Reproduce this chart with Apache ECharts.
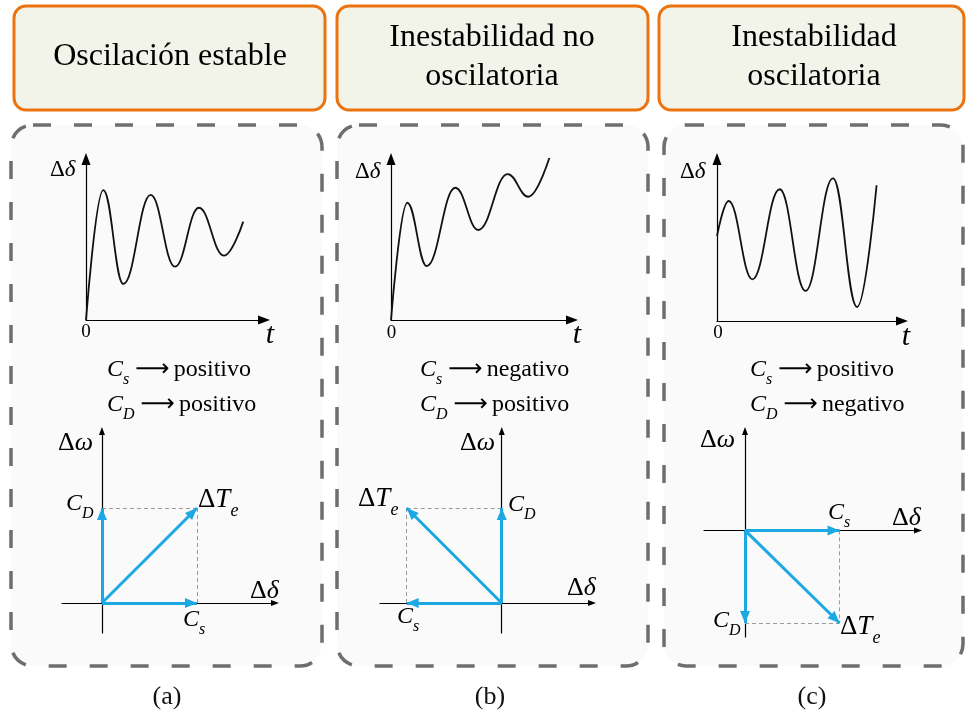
<!DOCTYPE html>
<html>
<head>
<meta charset="utf-8">
<script src="https://cdn.jsdelivr.net/npm/echarts@6/dist/echarts.min.js"></script>
<style>
  html, body { margin: 0; background: #fff; }
  #chart { width: 966px; height: 716px; }
</style>
</head>
<body>
<div id="chart"></div>
<script>
// textos
const titles = ['Oscilación estable', 'Inestabilidad no\noscilatoria', 'Inestabilidad\noscilatoria'];
const tags = ['(a)', '(b)', '(c)'];
const csSign = ['positivo', 'negativo', 'positivo'];
const cdSign = ['positivo', 'positivo', 'negativo'];

// respuesta Δδ(t): inicio, picos y valles, final; [t, Δδ]
const respA = [[0, 0], [0.94, 7.78], [2.03, 2.16], [3.52, 7.49], [4.84, 3.19], [6.14, 6.72], [7.5, 3.85], [8.55, 5.89]];
const respB = [[0, 0], [0.87, 7.02], [1.91, 3.23], [3.44, 7.92], [4.67, 5.39], [6.24, 8.74], [7.34, 7.38], [8.5, 9.82]];
const respC = [[0, 5.06], [0.61, 7.14], [1.85, 2.48], [3.28, 7.84], [4.63, 1.79], [6.07, 8.49], [7.33, 0.83], [8.35, 8.08]];
const responses = [respA, respB, respC];

// componentes del par eléctrico: Cs sobre Δδ, CD sobre Δω
const csVal = [1, -1, 1];
const cdVal = [1, 1, -0.98];

const F = 'Liberation Serif';
const BLUE = '#1CA8E3';
const TIP = 'path://M0,0 M0,12 L5,24 L-5,24 Z'; // punta en el centro del símbolo

// posiciones de cada panel
const layout = [
  {
    head: [14, 6, 311, 104], frame: [11, 125, 311, 541], tx: 170, tag: 167,
    tGrid: { left: 86, top: 159, width: 178, height: 161 }, dd: [50, 170], zero: [86, 332], t: [270, 335],
    line1: [107, 370], line2: [107, 405],
    vGrid: { left: 62, top: 431, width: 213, height: 202 }, vx: [-0.42, 1.82], vy: [-0.316, 1.81],
    dw: [58, 443], cd: [66, 504], te: [198, 500], dv: [250, 591], cs: [183, 620]
  },
  {
    head: [337, 6, 311, 104], frame: [337, 125, 311, 541], tx: 492, tag: 490,
    tGrid: { left: 391, top: 159, width: 181, height: 161 }, dd: [355, 172], zero: [391.5, 333], t: [577, 335],
    line1: [420, 370], line2: [420, 405],
    vGrid: { left: 380, top: 431, width: 212, height: 202 }, vx: [-1.281, 0.95], vy: [-0.316, 1.81],
    dw: [460, 443], cd: [508, 505], te: [358, 499], dv: [567, 588], cs: [397, 617]
  },
  {
    head: [659, 6, 305, 104], frame: [664, 125, 299, 541], tx: 814, tag: 812,
    tGrid: { left: 717, top: 159, width: 185, height: 162 }, dd: [680, 172], zero: [718, 333], t: [906, 337],
    line1: [750, 370], line2: [750, 405],
    vGrid: { left: 704, top: 431, width: 214, height: 206 }, vx: [-0.434, 1.83], vy: [-1.128, 1.052],
    dw: [700, 440], cd: [713, 621], te: [840, 627], dv: [892, 518], cs: [828, 513]
  }
];

function rich(s) {
  const lh = Math.round(s * 1.5);
  return {
    r: { fontFamily: F, fontSize: s, lineHeight: lh, fill: '#000' },
    i: { fontFamily: F, fontStyle: 'italic', fontSize: s, lineHeight: lh, fill: '#000' },
    b: { fontFamily: F, fontStyle: 'italic', fontSize: Math.round(s * 0.68), verticalAlign: 'bottom', fill: '#000' },
    w: { fontFamily: F, fontSize: s, lineHeight: lh, fill: '#000' },
    a: { fontFamily: 'DejaVu Sans', fontSize: s, padding: [0, 4, 0, 6], fill: '#000' }
  };
}

function txt(pos, text, s, align) {
  const al = align || 'left';
  return {
    type: 'text', x: pos[0], y: pos[1], z: 10,
    style: { text, rich: rich(s), align: al, textAlign: al, verticalAlign: 'middle', textVerticalAlign: 'middle' }
  };
}

function axis(i, min, max, arrow) {
  return {
    type: 'value', gridIndex: i, min, max,
    axisLine: { onZero: true, symbol: ['none', 'triangle'], symbolSize: arrow, lineStyle: { color: '#000', width: 1.2 } },
    axisTick: { show: false }, axisLabel: { show: false }, splitLine: { show: false }
  };
}

const grid = [], xAxis = [], yAxis = [], series = [], graphic = [];

layout.forEach((p, k) => {
  // marcos
  graphic.push({
    type: 'rect', z: 0,
    shape: { x: p.head[0], y: p.head[1], width: p.head[2], height: p.head[3], r: 12 },
    style: { fill: '#F2F4EA', stroke: '#EC7410', lineWidth: 3 }
  });
  graphic.push({
    type: 'rect', z: 0,
    shape: { x: p.frame[0], y: p.frame[1], width: p.frame[2], height: p.frame[3], r: 22 },
    style: { fill: '#FAFAFA', stroke: '#6E6E6E', lineWidth: 3.5, lineDash: [18, 23] }
  });
  graphic.push({
    type: 'text', x: p.tx, y: 57, z: 10,
    style: {
      text: titles[k], fontFamily: F, fontSize: 32, lineHeight: 39, fill: '#000',
      align: 'center', textAlign: 'center', verticalAlign: 'middle', textVerticalAlign: 'middle'
    }
  });
  graphic.push({
    type: 'text', x: p.tag, y: 697, z: 10,
    style: {
      text: tags[k], fontFamily: F, fontSize: 26, fill: '#111',
      align: 'center', textAlign: 'center', verticalAlign: 'middle', textVerticalAlign: 'middle'
    }
  });

  // respuesta en el tiempo
  const gi = k * 2;
  grid.push(p.tGrid);
  xAxis.push(axis(gi, 0, 9.68, [9, 12]));
  yAxis.push(axis(gi, 0, 9.64, [9, 12]));
  series.push({
    type: 'line', xAxisIndex: gi, yAxisIndex: gi, data: responses[k],
    smooth: 0.42, smoothMonotone: 'x', symbol: 'none', z: 3,
    lineStyle: { color: '#111', width: 1.8 }
  });
  graphic.push(txt(p.dd, '{r|Δ}{i|δ}', 23));
  graphic.push(txt(p.zero, '{w|0}', 19, 'center'));
  graphic.push(txt(p.t, '{i|t}', 30, 'center'));
  graphic.push(txt(p.line1, '{i|C}{b|s}{a|⟶}{w|' + csSign[k] + '}', 24));
  graphic.push(txt(p.line2, '{i|C}{b|D}{a|⟶}{w|' + cdSign[k] + '}', 24));

  // diagrama de pares
  const vi = gi + 1;
  const cs = csVal[k], cd = cdVal[k];
  grid.push(p.vGrid);
  xAxis.push(axis(vi, p.vx[0], p.vx[1], [6, 8]));
  yAxis.push(axis(vi, p.vy[0], p.vy[1], [6, 8]));
  series.push({
    type: 'lines', coordinateSystem: 'cartesian2d', xAxisIndex: vi, yAxisIndex: vi, z: 3,
    symbol: ['none', 'none'],
    lineStyle: { color: '#9A9A9A', width: 1, type: [4, 3], opacity: 1 },
    data: [{ coords: [[0, cd], [cs, cd]] }, { coords: [[cs, 0], [cs, cd]] }]
  });
  series.push({
    type: 'lines', coordinateSystem: 'cartesian2d', xAxisIndex: vi, yAxisIndex: vi, z: 4,
    symbol: ['none', TIP], symbolSize: [0, [10, 24]],
    lineStyle: { color: BLUE, width: 3, opacity: 1 },
    data: [
      { coords: [[0, 0], [cs, 0]] },
      { coords: [[0, 0], [0, cd]] },
      { coords: [[0, 0], [cs, cd]] }
    ]
  });
  graphic.push(txt(p.dw, '{r|Δ}{i|ω}', 26));
  graphic.push(txt(p.cd, '{i|C}{b|D}', 24));
  graphic.push(txt(p.te, '{r|Δ}{i|T}{b|e}', 27));
  graphic.push(txt(p.dv, '{r|Δ}{i|δ}', 26));
  graphic.push(txt(p.cs, '{i|C}{b|s}', 24));
});

const chart = echarts.init(document.getElementById('chart'));
chart.setOption({
  animation: false,
  backgroundColor: '#fff',
  grid, xAxis, yAxis, series, graphic
});
</script>
</body>
</html>
